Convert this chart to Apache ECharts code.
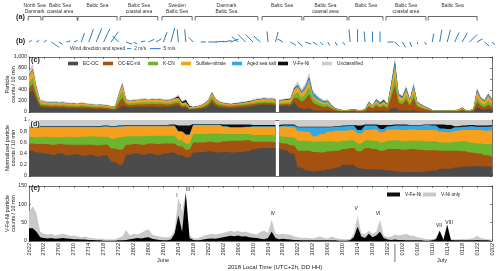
<!DOCTYPE html>
<html>
<head>
<meta charset="utf-8">
<script src="https://cdn.jsdelivr.net/npm/echarts@6.0.0/dist/echarts.min.js"></script>
<style>
html,body{margin:0;padding:0;background:#fff;}
#chart{width:500px;height:271px;}
</style>
</head>
<body>
<div id="chart"></div>
<script>
// ================= DATA =================
// x axis: hours since 26 June 2018 22:00 local time (UTC+2h)
const tickLabels = ['2622','2702','2706','2710','2714','2718','2722','2802','2806','2810','2814','2818','2822','2902','2906','2910','2914','2918','2922','3002','3006','3010','3014','3018','3022','0102','0106','0110','0114','0118','0122','0202'];
const monthLabels = ['June', 'July'];
const monthLabelHours = [35.9, 110.6];
const monthBoundaryHour = 98;   // 1 July 00:00
const gapAfterHour = 66;        // no data between this hour and the next

const classNames = ['EC-OC', 'OC-EC-nit', 'K-CN', 'Sulfate-nitrate', 'Aged sea salt', 'V-Fe-Ni', 'Unclassified'];

// (c) total particle counts / 10 min, hourly (index = hour)
const totalCounts = [750,880,500,230,210,200,190,205,185,195,180,170,175,165,180,170,160,150,145,150,
 140,130,120,110,350,560,250,220,230,240,245,250,240,250,245,250,240,230,240,270,
 320,200,240,120,100,110,130,170,230,380,250,200,180,170,160,170,180,190,200,210,
 230,250,260,270,260,265,250,230,240,250,260,470,560,420,520,720,400,320,260,220,
 230,140,80,50,40,40,45,60,40,35,60,200,130,250,180,240,150,560,1000,350,
 300,480,250,540,200,150,110,80,40,30,35,30,40,35,40,45,90,40,35,60,
 450,280,230,360,250];

// (d) class fractions, every 2 hours (index = hour / 2); unclassified = remainder
const fracEC = [.45,.42,.40,.38,.40,.37,.39,.36,.38,.35, .37,.25,.20,.38,.40,.38,.40,.37,.40,.42,
 .37,.33,.42,.43,.44,.42,.43,.42,.43,.44, .48,.50,.50,.50,.46,.40,.15,.10,.08,.10,
 .12,.15,.20,.20,.14,.12,.12,.11,.10,.08, .07,.07,.07,.08,.10,.13,.13,.15,.17,.17, .18,.17,.17];
const fracOCECnit = [.13,.15,.17,.18,.17,.19,.17,.20,.18,.20, .19,.24,.27,.18,.17,.18,.18,.20,.18,.16,
 .16,.14,.18,.17,.17,.18,.19,.21,.20,.20, .13,.11,.11,.10,.12,.15,.30,.35,.35,.32,
 .32,.30,.28,.30,.30,.38,.36,.34,.38,.40, .40,.41,.40,.38,.36,.32,.32,.30,.27,.25, .22,.20,.18];
const fracKCN = [.12,.12,.13,.13,.12,.14,.13,.14,.15,.15, .14,.18,.22,.15,.14,.15,.14,.15,.14,.14,
 .11,.11,.15,.15,.15,.16,.13,.12,.12,.11, .12,.12,.12,.12,.12,.14,.18,.18,.18,.20,
 .18,.16,.15,.14,.14,.14,.15,.15,.15,.16, .15,.15,.16,.16,.16,.15,.15,.16,.18,.18, .18,.20,.22];
const fracSulfNit = [.17,.18,.17,.18,.18,.17,.18,.17,.16,.17, .18,.20,.19,.18,.18,.18,.17,.17,.17,.17,
 .15,.15,.16,.16,.15,.15,.13,.11,.11,.12, .15,.15,.15,.16,.18,.18,.17,.16,.10,.13,
 .17,.20,.18,.18,.18,.18,.20,.18,.20,.19, .20,.20,.19,.20,.20,.19,.18,.20,.20,.22, .24,.24,.25];
const fracSeaSalt = [.01,.01,.01,.01,.01,.01,.01,.01,.01,.01, .01,.01,.01,.01,.01,.01,.01,.01,.01,.01,
 .01,.01,.01,.01,.01,.01,.01,.01,.01,.01, .01,.01,.01,.01,.02,.03,.07,.08,.16,.12,
 .08,.07,.08,.08,.06,.08,.07,.06,.06,.07, .08,.07,.08,.09,.08,.06,.06,.06,.06,.07, .06,.07,.07];
const fracVFeNi = [.01,.01,.01,.01,.01,.01,.01,.01,.01,.01, .01,.01,.01,.01,.01,.01,.01,.01,.01,.02,
 .10,.16,.01,.01,.01,.01,.03,.05,.05,.04, .02,.02,.02,.02,.02,.02,.01,.01,.01,.01,
 .01,.01,.01,.01,.08,.02,.02,.07,.02,.02, .02,.01,.01,.01,.02,.07,.07,.02,.02,.02, .02,.02,.02];

// (e) V-containing particle counts / 10 min, hourly
const vFeNiCounts = [35,35,25,10,8,7,8,6,7,8, 7,6,5,5,4,4,3,3,2,2, 1,1,1,1,2,2,3,5,6,8,
 7,9,10,6,4,3,2,2,4,20, 70,25,130,8,3,2,3,5,6,7, 6,8,10,12,14,13,15,12,13,10,
 9,8,6,5,8,25,8,5,6,5, 4,3,3,2,2,2,2,2,2,2, 2,2,2,1,1,1,2,10,39,12,
 8,20,10,15,25,8,4,3,4,3, 3,2,2,2,2,2,1,1,2,5, 28,3,44,3,2,2,2,2,2,2, 3,2,2,2,1];
const vNiOnlyCounts = [45,60,50,15,12,11,12,9,11,12, 11,8,10,7,6,8,6,5,4,5, 4,3,4,3,7,10,27,10,14,10,
 15,19,22,12,10,9,8,8,8,10, 48,55,5,7,5,5,7,10,12,13, 12,12,12,13,14,12,12,12,13,12,
 11,10,19,23,14,33,12,13,14,13, 13,9,7,6,7,6,5,8,10,6, 5,10,6,5,4,4,4,10,29,10,
 10,8,10,10,33,7,6,9,14,12, 14,18,13,12,8,6,5,4,3,3, 2,3,2,2,3,3,4,3,4,6, 11,6,4,3,3];

// event markers in (e)
const eventLabels = ['I','II','III','IV','V','VI','VII','VIII'];
const eventHours = [39.6, 40.4, 42.6, 65.3, 87.6, 93.5, 109.8, 112.5];
const eventCounts = [125, 95, 139, 74, 87, 76, 41, 49];

// (a) ship location periods
const regionLabels = ['North Sea\nDanmark','Baltic Sea\ncoastal area','Baltic Sea','Baltic Sea\ncoastal area','Sweden\nBaltic Sea','Danmark\nBaltic Sea','Baltic Sea','Baltic Sea\ncoastal area','Baltic Sea','Baltic Sea\ncoastal area','Baltic Sea'];
const regionStart = [-0.2, 3.7, 13.1, 24.4, 35.6, 44.5, 62.4, 73.6, 85.7, 95.6, 106.9];
const regionEnd   = [3.2, 12.9, 23.6, 34.5, 43.7, 61.3, 73.1, 85.2, 94.8, 106.3, 120.0];

// (b) wind, every 2 hours: speed (m/s) and direction (deg, counter-clockwise from east)
const windSpeed = [1.5,1.5,1.5,4.5,2,2,2,4.5,6.5,7, 7,6,4,3,2,2,3,3,5,7, 6,6,3,2.5,4,4,4,4,4,5,
 5,4,5,5,3,3,3,3,2.5,2, 2,2,2,6,6,5,5,5,3,3, 3,2.5,1,1.5,4,6,6,5,5,5, 3,3,2];
const windDir = [30,30,30,-35,-30,15,20,70,70,68, 65,55,135,-20,-30,15,25,30,70,75, 95,95,135,0,0,5,10,20,140,135,
 135,140,95,75,150,-30,-40,-20,-30,-45, -60,-60,-50,95,90,95,90,90,0,-45, -60,-70,-80,-60,80,80,75,65,60,45, 30,-40,-40];
const windLegendSpeeds = [2, 5];

// ================= STYLE =================
const FONT = 'Liberation Sans, Arial, Helvetica, sans-serif';
const classColors = ['#4b4b4b', '#a5510f', '#6db52f', '#f6a01d', '#33a9e3', '#0d0d0d', '#cccccc'];
const WIND_COLOR = '#2b7dc0';
const PX_PER_MS = 2.1;
const AX = '#333';

// ================= BUILD =================
const hoursAll = totalCounts.map((_, i) => i);
const windHours = windSpeed.map((_, i) => i * 2);
const fracs = [fracEC, fracOCECnit, fracKCN, fracSulfNit, fracSeaSalt, fracVFeNi];
function fracAt(k, h) {
  const i = Math.floor(h / 2);
  if (k < 6) return fracs[k][i];
  return 1 - fracs.reduce((s, f) => s + f[i], 0);
}
function cumFrac(k, h) { let s = 0; for (let j = 0; j <= k; j++) s += fracAt(j, h); return s; }
function addGap(pts) {
  const out = [];
  pts.forEach(p => { out.push(p); if (p[0] === gapAfterHour) out.push([gapAfterHour + 0.5, null]); });
  return out;
}

const grids = [
  { left: 29, right: 8, top: 57, height: 55 },
  { left: 29, right: 8, top: 120, height: 56 },
  { left: 29, right: 8, top: 186, height: 55 },
  { left: 29, right: 8, top: 0, height: 56 }
].map(g => Object.assign({ show: false, containLabel: false, outerBoundsMode: 'none' }, g));

function xAx(gridIndex, position, labels) {
  return {
    type: 'value', gridIndex, position, min: 0, max: 124, interval: 4,
    axisLine: { show: true, onZero: false, lineStyle: { color: AX, width: 0.7 } },
    axisTick: { show: true, inside: true, length: 2, lineStyle: { color: AX, width: 0.6 } },
    splitLine: { show: false },
    axisLabel: labels ? {
      show: true, rotate: 90, fontSize: 5.6, margin: 2, color: '#222', fontFamily: FONT,
      showMinLabel: true, showMaxLabel: true, hideOverlap: false,
      formatter: v => tickLabels[Math.round(v / 4)]
    } : { show: false }
  };
}
function yAx(gridIndex, position, min, max, interval, labels, name, fmt) {
  const a = {
    type: 'value', gridIndex, position, min, max, interval,
    axisLine: { show: true, onZero: false, lineStyle: { color: AX, width: 0.7 } },
    axisTick: { show: true, inside: true, length: 2, lineStyle: { color: AX, width: 0.6 } },
    splitLine: { show: false },
    axisLabel: labels ? { show: true, fontSize: 5.2, margin: 2, color: '#222', fontFamily: FONT,
      showMinLabel: true, showMaxLabel: true, formatter: fmt } : { show: false }
  };
  if (name) {
    a.name = name; a.nameLocation = 'middle'; a.nameRotate = 90; a.nameGap = 12;
    a.nameMoveOverlap = false;
    a.nameTextStyle = { fontSize: 5.4, lineHeight: 6, color: '#222', fontFamily: FONT };
  }
  return a;
}

const xAxis = [
  xAx(0, 'bottom', false), xAx(0, 'top', false),
  xAx(1, 'bottom', false), xAx(1, 'top', false),
  xAx(2, 'bottom', true),  xAx(2, 'top', false),
  { type: 'value', gridIndex: 3, min: 0, max: 124, show: false }
];
const yAxis = [
  yAx(0, 'left', 0, 1000, 200, true, 'Particle\ncounts / 10 min'),
  yAx(0, 'right', 0, 1000, 200, false),
  yAx(1, 'left', 0, 1, 0.2, true, 'Normalized particle\ncounts / 10 min', v => String(Math.round(v * 10) / 10)),
  yAx(1, 'right', 0, 1, 0.2, false),
  yAx(2, 'left', 0, 150, 50, true, 'V-Fe-Ni particle\ncounts / 10 min'),
  yAx(2, 'right', 0, 150, 50, false),
  { type: 'value', gridIndex: 3, min: 0, max: 56, inverse: true, show: false }
];

const series = [];
function areaSeries(name, color, xi, yi, data) {
  return { type: 'line', name, color, xAxisIndex: xi, yAxisIndex: yi, data,
    symbol: 'none', showSymbol: false, silent: true, connectNulls: false,
    lineStyle: { width: 0, color }, itemStyle: { color }, areaStyle: { color, opacity: 1 } };
}
// (c) counts: drawn as cumulative areas, top class first
for (let k = 6; k >= 0; k--) {
  const pts = hoursAll.map(h => [h, totalCounts[h] * cumFrac(k, h)]);
  series.push(areaSeries(classNames[k], classColors[k], 0, 0, addGap(pts)));
}
// (d) normalized
for (let k = 6; k >= 0; k--) {
  const pts = hoursAll.map(h => [h, Math.min(1, cumFrac(k, h))]);
  series.push(areaSeries(classNames[k], classColors[k], 2, 2, addGap(pts)));
}
// (e) V-Ni only stacked above V-Fe-Ni
series.push(areaSeries('V-Ni only', '#c9c9c9', 4, 4, hoursAll.map(h => [h, vFeNiCounts[h] + vNiOnlyCounts[h]])));
series.push(areaSeries('V-Fe-Ni', '#000000', 4, 4, hoursAll.map(h => [h, vFeNiCounts[h]])));

// event labels
series.push({
  type: 'custom', xAxisIndex: 4, yAxisIndex: 4, silent: true,
  data: eventHours.map((h, i) => [h, eventCounts[i]]),
  renderItem: (params, api) => {
    const p = api.coord([api.value(0), api.value(1)]);
    return { type: 'text', style: { text: eventLabels[params.dataIndex], x: p[0], y: p[1],
      align: 'center', verticalAlign: 'middle', fontSize: 5, fill: '#222', fontFamily: FONT } };
  }
});
// month labels and boundary (below x axis)
series.push({
  type: 'custom', xAxisIndex: 4, yAxisIndex: 4, silent: true, clip: false,
  data: monthLabelHours.map((h, i) => [h, 0]),
  renderItem: (params, api) => {
    const p = api.coord([api.value(0), 0]);
    return { type: 'text', style: { text: monthLabels[params.dataIndex], x: p[0], y: p[1] + 19,
      align: 'center', verticalAlign: 'middle', fontSize: 5.6, fill: '#222', fontFamily: FONT } };
  }
});
series.push({
  type: 'custom', xAxisIndex: 4, yAxisIndex: 4, silent: true, clip: false,
  data: [[monthBoundaryHour, 0]],
  renderItem: (params, api) => {
    const p = api.coord([api.value(0), 0]);
    return { type: 'group', children: [
      { type: 'polyline', shape: { points: [[p[0], p[1] + 3], [p[0], p[1] + 21]] },
        style: { stroke: '#555', lineWidth: 0.8, fill: null } } ] };
  }
});
// (a) region brackets
series.push({
  type: 'custom', xAxisIndex: 6, yAxisIndex: 6, silent: true, clip: false,
  data: regionStart.map((s, i) => [s, regionEnd[i]]),
  renderItem: (params, api) => {
    const s = api.coord([api.value(0), 16.5]);
    const e = api.coord([api.value(1), 16.5]);
    const t = api.coord([api.value(0), 3]);
    return { type: 'group', children: [
      { type: 'polyline', shape: { points: [[s[0], s[1] + 4], [s[0], s[1]], [e[0], e[1]], [e[0], e[1] + 4]] },
        style: { stroke: '#444', lineWidth: 0.8, fill: null } },
      { type: 'text', style: { text: regionLabels[params.dataIndex], x: (s[0] + e[0]) / 2, y: t[1],
        align: 'center', verticalAlign: 'top', fontSize: 4.9, lineHeight: 6, fill: '#333', fontFamily: FONT } }
    ] };
  }
});
// (b) wind sticks
series.push({
  type: 'custom', xAxisIndex: 6, yAxisIndex: 6, silent: true, clip: false,
  data: windHours.map((h, i) => [h, 42]),
  renderItem: (params, api) => {
    const i = params.dataIndex;
    const p = api.coord([api.value(0), api.value(1)]);
    const L = windSpeed[i] * PX_PER_MS, a = windDir[i] * Math.PI / 180;
    return { type: 'group', children: [
      { type: 'polyline', shape: { points: [[p[0], p[1]], [p[0] + L * Math.cos(a), p[1] - L * Math.sin(a)]] },
        style: { stroke: WIND_COLOR, lineWidth: 1, fill: null } } ] };
  }
});

// legends
const legendLefts = [68, 103, 148, 181, 232, 278, 322];
const legend = classNames.map((n, i) => ({
  data: [{ name: n, icon: 'rect' }], left: legendLefts[i], top: 61, padding: 0,
  itemWidth: 10, itemHeight: 3.6, selectedMode: false,
  textStyle: { fontSize: 4.8, color: '#222', fontFamily: FONT }
}));
legend.push({ data: [{ name: 'V-Fe-Ni', icon: 'rect' }], left: 387, top: 192, padding: 0, itemWidth: 13, itemHeight: 4,
  selectedMode: false, textStyle: { fontSize: 4.8, color: '#222', fontFamily: FONT } });
legend.push({ data: [{ name: 'V-Ni only', icon: 'rect' }], left: 423, top: 192, padding: 0, itemWidth: 13, itemHeight: 4,
  selectedMode: false, textStyle: { fontSize: 4.8, color: '#222', fontFamily: FONT } });

// wind legend (lengths from speeds)
const wl = [];
wl.push({ type: 'text', x: 70, y: 48.6, style: { text: 'Wind direction and speed', fontSize: 4.9, fill: '#333', fontFamily: FONT, verticalAlign: 'middle' } });
const wlX = [127, 150];
windLegendSpeeds.forEach((s, i) => {
  const L = s * PX_PER_MS;
  wl.push({ type: 'line', shape: { x1: wlX[i], y1: 48.6, x2: wlX[i] + L, y2: 48.6 }, style: { stroke: WIND_COLOR, lineWidth: 1 } });
  wl.push({ type: 'text', x: wlX[i] + L + 3, y: 48.6, style: { text: s + ' m/s', fontSize: 4.9, fill: '#333', fontFamily: FONT, verticalAlign: 'middle' } });
});

const panelText = (t, x, y) => ({ type: 'text', x, y, z: 100, style: { text: t, fontSize: 7.2, fontWeight: 'bold', fill: '#222', fontFamily: FONT, verticalAlign: 'middle' } });
const graphic = [
  ...wl,
  panelText('(a)', 16, 17),
  panelText('(b)', 16, 41),
  panelText('(c)', 31, 60),
  { type: 'rect', z: 99, shape: { x: 29.4, y: 120.4, width: 10, height: 6.5 }, style: { fill: '#fff' } },
  panelText('(d)', 30.5, 123.8),
  panelText('(e)', 31, 188.5),
  { type: 'text', x: 275, y: 267, style: { text: '2018 Local Time (UTC+2h, DD HH)', fontSize: 6, fill: '#222', fontFamily: FONT, align: 'center', verticalAlign: 'middle' } }
];

const chart = echarts.init(document.getElementById('chart'), null, { renderer: 'canvas', width: 500, height: 271 });
chart.setOption({
  animation: false,
  backgroundColor: '#fff',
  textStyle: { fontFamily: FONT },
  grid: grids, xAxis, yAxis, series, legend, graphic
});
</script>
</body>
</html>
